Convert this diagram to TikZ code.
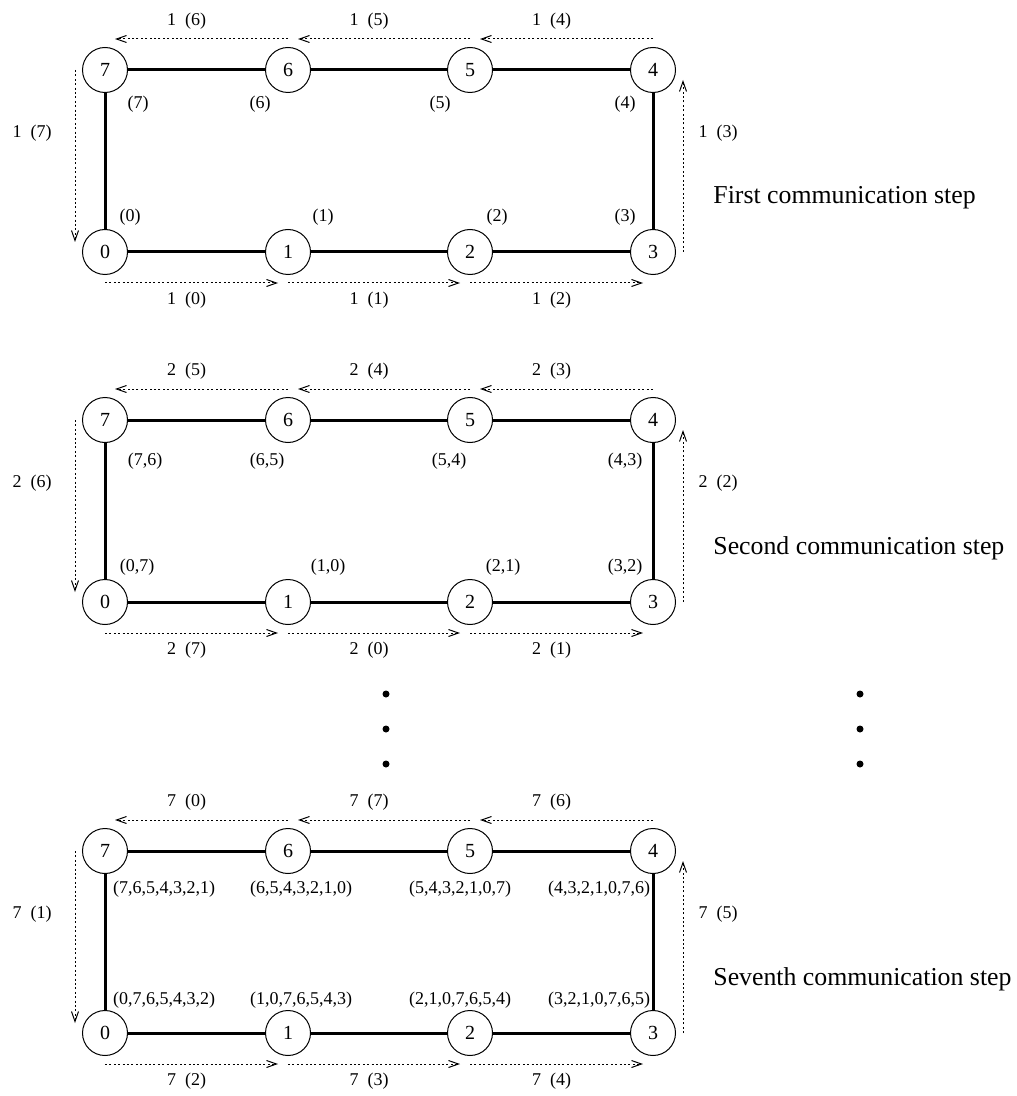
\documentclass[tikz,border=0pt]{standalone}
\usepackage{fontspec}
\setmainfont{Liberation Serif}
\usetikzlibrary{arrows.meta,calc}
\tikzset{
  proc/.style={circle,draw=black,line width=0.5pt,minimum size=22.5pt,inner sep=0pt,
               font=\fontsize{10}{12}\selectfont},
  link/.style={line width=1.5pt},
  msg/.style={-{Straight Barb[length=5pt,width=3.5pt]},line width=0.5pt,
              dash pattern=on 1pt off 1.2pt},
  mlab/.style={font=\fontsize{9}{11}\selectfont,inner sep=0pt},
  buf/.style={font=\fontsize{9}{11}\selectfont,inner sep=0pt},
  steplab/.style={font=\fontsize{12.9}{15}\selectfont,anchor=west,inner sep=0pt},
}
\begin{document}
\begin{tikzpicture}[x=0.5pt,y=-0.5pt]
  \useasboundingbox (0,0) rectangle (1016,1096);
  \foreach \p/\oy/\k/\stepname/\ta/\tb/\tc/\ba/\bb/\bc/\lv/\rv in
     {a/0/1/First/6/5/4/0/1/2/7/3,
      b/350/2/Second/5/4/3/7/0/1/6/2,
      c/781/7/Seventh/0/7/6/2/3/4/1/5}{
    % ring of processors
    \foreach \i/\x in {0/105,1/288,2/470,3/653}
      \node[proc] (\p\i) at (\x,252+\oy) {\i};
    \foreach \i/\x in {7/105,6/288,5/470,4/653}
      \node[proc] (\p\i) at (\x,70+\oy) {\i};
    \draw[link] (\p0) -- (\p1) -- (\p2) -- (\p3) -- (\p4) -- (\p5) -- (\p6) -- (\p7) -- (\p0);
    % messages along the ring
    \foreach \s/\r/\v in {6/7/\ta,5/6/\tb,4/5/\tc}{
      \draw[msg] ($(\p\s)+(0,-31)$) -- ($(\p\r)+(10,-31)$);
      \node[mlab] at ($(\p\s)!0.5!(\p\r)+(-10,-49)$) {\k\enspace(\v)};
    }
    \foreach \s/\r/\v in {0/1/\ba,1/2/\bb,2/3/\bc}{
      \draw[msg] ($(\p\s)+(0,31)$) -- ($(\p\r)+(-10,31)$);
      \node[mlab] at ($(\p\s)!0.5!(\p\r)+(-10,48)$) {\k\enspace(\v)};
    }
    \draw[msg] ($(\p7)+(-30,0)$) -- ($(\p0)+(-30,-10)$);
    \node[mlab] at ($(\p7)+(-73,63)$) {\k\enspace(\lv)};
    \draw[msg] ($(\p3)+(30,0)$) -- ($(\p4)+(30,10)$);
    \node[mlab] at ($(\p4)+(65,63)$) {\k\enspace(\rv)};
    \node[steplab] at ($(\p3)+(60,-54)$) {\stepname\ communication step};
  }

  % buffers after each step
  \foreach \i/\dx/\dy/\t in {7/33/34/{(7)},6/-28/34/{(6)},5/-30/34/{(5)},4/-28/34/{(4)},
                              0/25/-35/{(0)},1/35/-35/{(1)},2/27/-35/{(2)},3/-28/-35/{(3)}}
    \node[buf] (ab\i) at ($(a\i)+(\dx,\dy)$) {\t};
  \foreach \i/\dx/\dy/\t in {7/40/41/{(7,6)},6/-21/41/{(6,5)},5/-21/41/{(5,4)},4/-28/41/{(4,3)},
                              0/32/-35/{(0,7)},1/40/-35/{(1,0)},2/33/-35/{(2,1)},3/-28/-35/{(3,2)}}
    \node[buf] (bb\i) at ($(b\i)+(\dx,\dy)$) {\t};
  \foreach \i/\dx/\dy/\t in {7/59/38/{(7,6,5,4,3,2,1)},6/13/38/{(6,5,4,3,2,1,0)},
                              5/-10/38/{(5,4,3,2,1,0,7)},4/-54/38/{(4,3,2,1,0,7,6)},
                              0/59/-33/{(0,7,6,5,4,3,2)},1/13/-33/{(1,0,7,6,5,4,3)},
                              2/-10/-33/{(2,1,0,7,6,5,4)},3/-54/-33/{(3,2,1,0,7,6,5)}}
    \node[buf] (cb\i) at ($(c\i)+(\dx,\dy)$) {\t};

  % skipped steps
  \foreach \y in {694,729,764}{
    \fill (386,\y) circle[radius=1.75pt];
    \fill (860,\y) circle[radius=1.75pt];
  }
\end{tikzpicture}
\end{document}
